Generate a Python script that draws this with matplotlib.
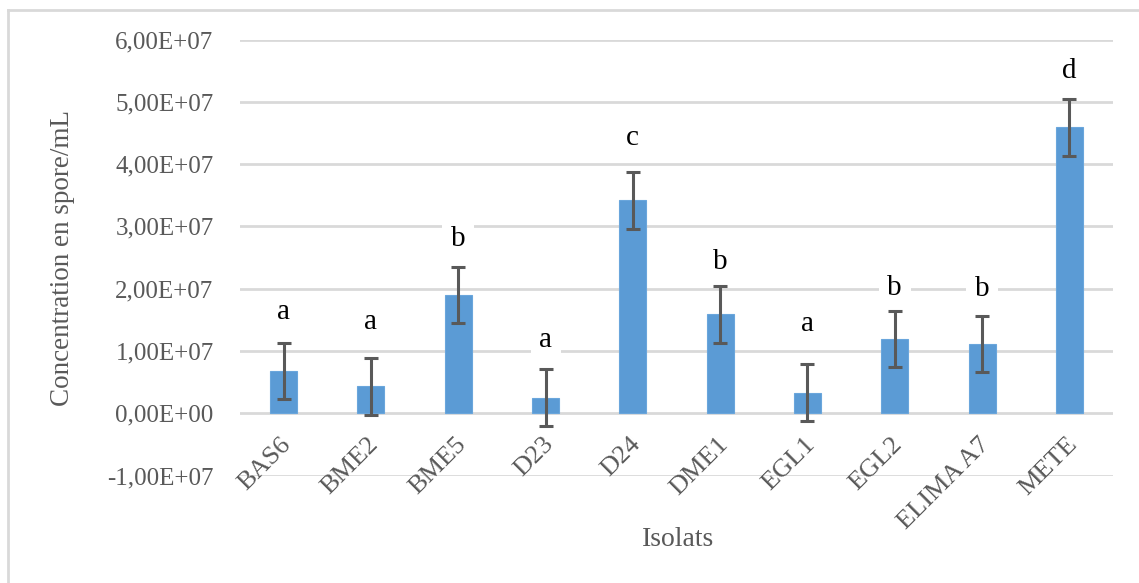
import matplotlib
matplotlib.use("Agg")
import matplotlib.pyplot as plt
from matplotlib.lines import Line2D
import numpy as np

# Spore concentration per isolate (spores/mL), with standard deviation and group letters
isolates = ["BAS6", "BME2", "BME5", "D23", "D24", "DME1", "EGL1", "EGL2", "ELIMA A7", "METE"]
concentration = [0.68e7, 0.43e7, 1.90e7, 0.25e7, 3.42e7, 1.59e7, 0.33e7, 1.19e7, 1.11e7, 4.59e7]
std_dev = [0.455e7, 0.46e7, 0.455e7, 0.455e7, 0.455e7, 0.455e7, 0.46e7, 0.455e7, 0.455e7, 0.455e7]
groups = ["a", "a", "b", "a", "c", "b", "a", "b", "b", "d"]

y_ticks = [-1e7, 0, 1e7, 2e7, 3e7, 4e7, 5e7, 6e7]
y_tick_labels = ["-1,00E+07", "0,00E+00", "1,00E+07", "2,00E+07",
                 "3,00E+07", "4,00E+07", "5,00E+07", "6,00E+07"]

# height of each group letter above its error bar (data units)
letter_gap = [0.49e7, 0.58e7, 0.45e7, 0.47e7, 0.54e7, 0.39e7, 0.65e7, 0.36e7, 0.43e7, 0.45e7]

W, H, DPI = 1139, 583, 100
fig = plt.figure(figsize=(W / DPI, H / DPI), dpi=DPI)
fig.patch.set_facecolor("white")

serif = ["Liberation Serif", "DejaVu Serif"]
grey_txt = "#595959"
grid_col = "#d9d9d9"

x0, x1 = 240, 1113
y_top, y_bot = 39.5, 475.5
ax = fig.add_axes([x0 / W, (H - y_bot) / H, (x1 - x0) / W, (y_bot - y_top) / H])
ax.set_facecolor("white")

x = np.arange(len(isolates))
ax.set_xlim(-0.5, len(isolates) - 0.5)
ax.set_ylim(-1e7, 6e7)

for yv in y_ticks:
    ax.axhline(yv, color=grid_col, lw=2.0, zorder=0)

ax.bar(x, concentration, width=0.31, color="#5b9bd5", edgecolor="#6aa6dc",
       linewidth=0.8, zorder=2)

# group letters sit on white boxes that interrupt the gridlines
for xi, v, e, g, gap in zip(x, concentration, std_dev, groups, letter_gap):
    ax.text(xi, v + e + gap, g, ha="center", va="center", fontsize=21,
            family=serif, color="black", zorder=3,
            bbox=dict(facecolor="white", edgecolor="none", pad=6))

ax.errorbar(x, concentration, yerr=std_dev, fmt="none", ecolor="#595959",
            elinewidth=2.2, capsize=5, capthick=2.2, zorder=4)

ax.set_yticks(y_ticks)
ax.set_yticklabels(y_tick_labels, family=serif, fontsize=18, color=grey_txt)
ax.tick_params(axis="y", length=0, pad=19)
ax.set_xticks([])

for xi, name in zip(x, isolates):
    ax.annotate(name, xy=(xi, 0), xycoords="data", xytext=(3, -20),
                textcoords="offset points", rotation=45, rotation_mode="anchor",
                ha="right", va="center", fontsize=19, family=serif, color=grey_txt)

for s in ax.spines.values():
    s.set_visible(False)

fig.text(63 / W, 1 - 258 / H, "Concentration en spore/mL", rotation=90,
         ha="center", va="center", fontsize=19.5, family=serif, color=grey_txt)
fig.text(678 / W, 1 - 540 / H, "Isolats", ha="center", va="center",
         fontsize=20, family=serif, color=grey_txt)

# chart-area frame
fig.add_artist(Line2D([8 / W, 8 / W], [0, 1 - 10 / H], transform=fig.transFigure,
                      color=grid_col, lw=2.0))
fig.add_artist(Line2D([8 / W, 1], [1 - 10 / H, 1 - 10 / H], transform=fig.transFigure,
                      color=grid_col, lw=2.0))

fig.savefig("out.png", dpi=DPI, facecolor="white")
